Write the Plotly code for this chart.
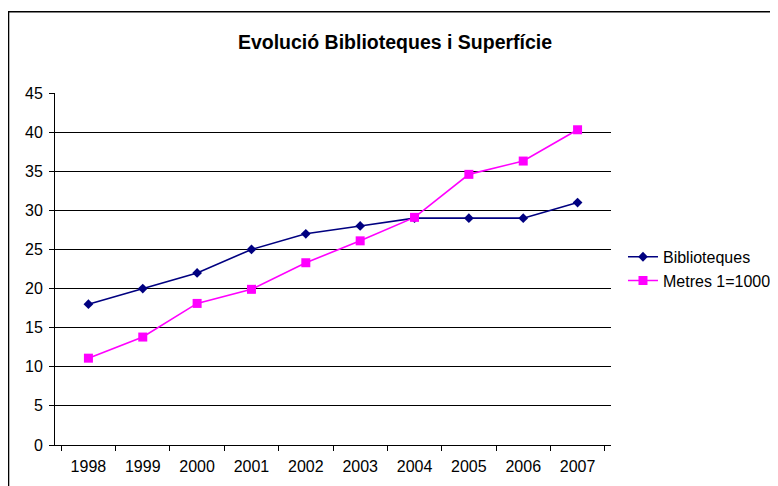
import plotly.graph_objects as go

years = ["1998", "1999", "2000", "2001", "2002", "2003", "2004", "2005", "2006", "2007"]
biblioteques = [18, 20, 22, 25, 27, 28, 29, 29, 29, 31]
metres = [11.1, 13.8, 18.1, 19.9, 23.3, 26.1, 29.1, 34.6, 36.3, 40.3]

W, H = 810, 486  # a bit wider than the window so the legend never pushes the margins
OFF = 8  # page body margin shifts the figure
L, T = 54.5 - OFF, 93.3 - OFF
pw, ph = 556.5, 351.7
R, B = W - L - pw, H - T - ph

fig = go.Figure()
fig.add_trace(go.Scatter(
    x=years, y=biblioteques, name="Biblioteques", mode="lines+markers",
    line=dict(color="#000080", width=1.6),
    marker=dict(symbol="diamond", size=7.5, color="#000080"),
))
fig.add_trace(go.Scatter(
    x=years, y=metres, name="Metres 1=1000", mode="lines+markers",
    line=dict(color="#FF00FF", width=1.6),
    marker=dict(symbol="square", size=9, color="#FF00FF"),
))

# outer chart border (top and left edges visible, rest cropped)
fig.add_shape(type="rect", xref="paper", yref="paper",
              x0=(8 - OFF - L) / pw, x1=(W + 20 - L) / pw,
              y0=-(B + 20) / ph, y1=(T + ph - (12 - OFF)) / ph,
              line=dict(color="black", width=1.5), fillcolor="rgba(0,0,0,0)")

fig.update_layout(
    width=W, height=H,
    margin=dict(l=L, r=R, t=T, b=B),
    paper_bgcolor="white", plot_bgcolor="white",
    font=dict(family="Arial, Liberation Sans, sans-serif", size=16, color="black"),
    title=dict(text="<b>Evolució Biblioteques i Superfície</b>",
               x=(395 - OFF) / W, xanchor="center", y=1 - (42 - OFF) / H, yanchor="middle",
               font=dict(size=19.5)),
    showlegend=True,
    legend=dict(x=(623 - OFF - L) / pw, xanchor="left",
                y=(T + ph - (269 - OFF)) / ph, yanchor="middle",
                font=dict(size=16), bgcolor="rgba(0,0,0,0)", tracegroupgap=4),
    xaxis=dict(type="category", showgrid=False, showline=True, linecolor="black",
               linewidth=1, ticks="outside", tickson="boundaries", ticklen=5,
               tickcolor="black", zeroline=False, fixedrange=True,
               ticklabelstandoff=7),
    yaxis=dict(range=[0, 45], dtick=5, showgrid=True, gridcolor="black", gridwidth=1,
               showline=True, linecolor="black", linewidth=1, ticks="outside",
               ticklen=5, tickcolor="black", zeroline=False, fixedrange=True,
               ticklabelstandoff=3),
)

fig.write_html("out.html")
